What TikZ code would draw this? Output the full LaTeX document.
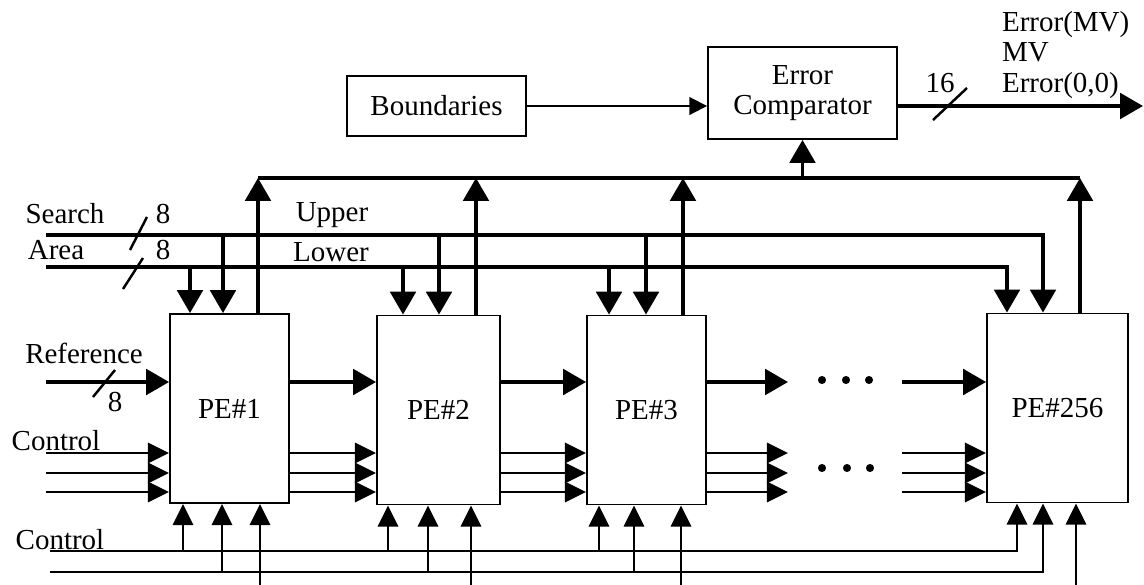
\documentclass[tikz,border=0pt]{standalone}
\usepackage{fontspec}
\setmainfont{Liberation Serif}
\usetikzlibrary{arrows.meta,positioning}

\begin{document}
\begin{tikzpicture}[x=0.02cm,y=-0.02cm,
    every node/.style={font=\fontsize{16.5}{17.5}\selectfont, inner sep=1pt}]
    \tikzset{block/.style= {draw, rectangle
    , line width=1.1pt
    , minimum height=3.78cm
    , align=center
      },
      wire/.style={line width=1.4pt},
      heavy/.style={line width=2pt},
      arr/.style={wire, -{Triangle[length=12pt,width=11.5pt]}},
      bigarr/.style={heavy, -{Triangle[length=13pt,width=14.5pt]}},
      thinarr/.style={line width=1.1pt, -{Triangle[length=10pt,width=10pt]}}
    }
\useasboundingbox (0,0) rectangle (1144,585);

\node [block, minimum width=2.38cm] (pe1) at (229.5,408.5) {PE\#1};
\node [block, minimum width=2.46cm] (pe2) at (438.5,410) {PE\#2};
\node [block, minimum width=2.38cm] (pe3) at (646.5,410) {PE\#3};
\node [block, minimum width=2.82cm] (pe256) at (1057.5,408) {PE\#256};
\node [block, minimum width=3.58cm, minimum height=1.2cm] (bnd) at (436.5,106) {Boundaries};
\node [block, minimum width=3.78cm, minimum height=1.84cm] (cmp) at (802.5,93) {Error\\Comparator};

\coordinate (bus) at (0,178);
\coordinate (upper) at (0,235);
\coordinate (lower) at (0,267);
\coordinate (ref) at (0,382);
\coordinate (ra) at (0,453);
\coordinate (rb) at (0,473);
\coordinate (rc) at (0,492);
\coordinate (ctla) at (0,551);
\coordinate (ctlb) at (0,572);
\coordinate (bottom) at (0,585);
\coordinate (west) at (46,0);
\coordinate (brk) at (788,0);
\coordinate (resume) at (902,0);
\coordinate (out) at (1143,106);

\node (lsearch) at (65,214) {Search};
\node (larea) at (56,250) {Area};
\node (lupper) at (332,215) {Upper};
\node (llower) at (331,252) {Lower};
\node (w8a) at (163,214) {8};
\node (w8b) at (163,250) {8};
\node (lref) at (84,353) {Reference};
\node (w8c) at (115,402) {8};
\node (lctla) at (56,441) {Control};
\node (lctlb) at (60,540) {Control};
\node (w16) at (940,83) {16};
\node [align=left, anchor=west] (lout) at (1000,55) {Error(MV)\\MV\\Error(0,0)};

% comparator
\draw[thinarr] (bnd) -- (cmp.west |- bnd);
\draw[bigarr] (cmp.east |- bnd) -- (out);
\draw[wire] (933,120) -- (967,88);
\draw[heavy] (bus -| 258,0) -- (bus -| 1080,0);
\draw[bigarr] (bus -| cmp.south) -- (cmp.south);

% search area
\draw[bigarr] (upper -| west) -| (pe256.north -| 1043,0);
\draw[bigarr] (lower -| west) -| (pe256.north -| 1007,0);
\draw[wire] (130,250) -- (147,217);
\draw[wire] (123,289) -- (143,258);
\draw[bigarr] (lower -| 190,0) -- (pe1.north -| 190,0);
\draw[bigarr] (upper -| 223,0) -- (pe1.north -| 223,0);
\draw[bigarr] (lower -| 403,0) -- (pe2.north -| 403,0);
\draw[bigarr] (upper -| 439,0) -- (pe2.north -| 439,0);
\draw[bigarr] (lower -| 609,0) -- (pe3.north -| 609,0);
\draw[bigarr] (upper -| 646,0) -- (pe3.north -| 646,0);

% results up to the bus
\draw[bigarr] (pe1.north -| 258,0) -- (bus -| 258,0);
\draw[bigarr] (pe2.north -| 476,0) -- (bus -| 476,0);
\draw[bigarr] (pe3.north -| 683,0) -- (bus -| 683,0);
\draw[bigarr] (pe256.north -| 1080,0) -- (bus -| 1080,0);

% reference and control in
\draw[bigarr] (ref -| west) -- (pe1.west |- ref);
\draw[wire] (93,397) -- (115,370);
\draw (ra -| west) edge[arr] (pe1.west |- ra)
      (rb -| west) edge[arr] (pe1.west |- rb)
      (rc -| west) edge[arr] (pe1.west |- rc);

% chain
\draw[bigarr] (pe1.east |- ref) -- (pe2.west |- ref);
\draw[bigarr] (pe2.east |- ref) -- (pe3.west |- ref);
\draw[bigarr] (pe3.east |- ref) -- (ref -| brk);
\draw[bigarr] (ref -| resume) -- (pe256.west |- ref);
\draw (pe1.east |- ra) edge[arr] (pe2.west |- ra)
      (pe1.east |- rb) edge[arr] (pe2.west |- rb)
      (pe1.east |- rc) edge[arr] (pe2.west |- rc)
      (pe2.east |- ra) edge[arr] (pe3.west |- ra)
      (pe2.east |- rb) edge[arr] (pe3.west |- rb)
      (pe2.east |- rc) edge[arr] (pe3.west |- rc)
      (pe3.east |- ra) edge[arr] (ra -| brk)
      (pe3.east |- rb) edge[arr] (rb -| brk)
      (pe3.east |- rc) edge[arr] (rc -| brk)
      (ra -| resume) edge[arr] (pe256.west |- ra)
      (rb -| resume) edge[arr] (pe256.west |- rb)
      (rc -| resume) edge[arr] (pe256.west |- rc);
\fill (822,380) circle (2.3pt) (846,380) circle (2.3pt) (869,380) circle (2.3pt);
\fill (822,468) circle (2.3pt) (847,468) circle (2.3pt) (870,468) circle (2.3pt);

% control from below
\draw[arr] (ctla -| 50,0) -| (pe256.south -| 1017,0);
\draw[arr] (ctlb -| 50,0) -| (pe256.south -| 1043,0);
\draw (ctla -| 183,0) edge[arr] (pe1.south -| 183,0)
      (ctlb -| 222,0) edge[arr] (pe1.south -| 222,0)
      (bottom -| 260,0) edge[arr] (pe1.south -| 260,0)
      (ctla -| 388,0) edge[arr] (pe2.south -| 388,0)
      (ctlb -| 428,0) edge[arr] (pe2.south -| 428,0)
      (bottom -| 471,0) edge[arr] (pe2.south -| 471,0)
      (ctla -| 599,0) edge[arr] (pe3.south -| 599,0)
      (ctlb -| 634,0) edge[arr] (pe3.south -| 634,0)
      (bottom -| 681,0) edge[arr] (pe3.south -| 681,0)
      (bottom -| 1076,0) edge[arr] (pe256.south -| 1076,0);
\end{tikzpicture}
\end{document}
